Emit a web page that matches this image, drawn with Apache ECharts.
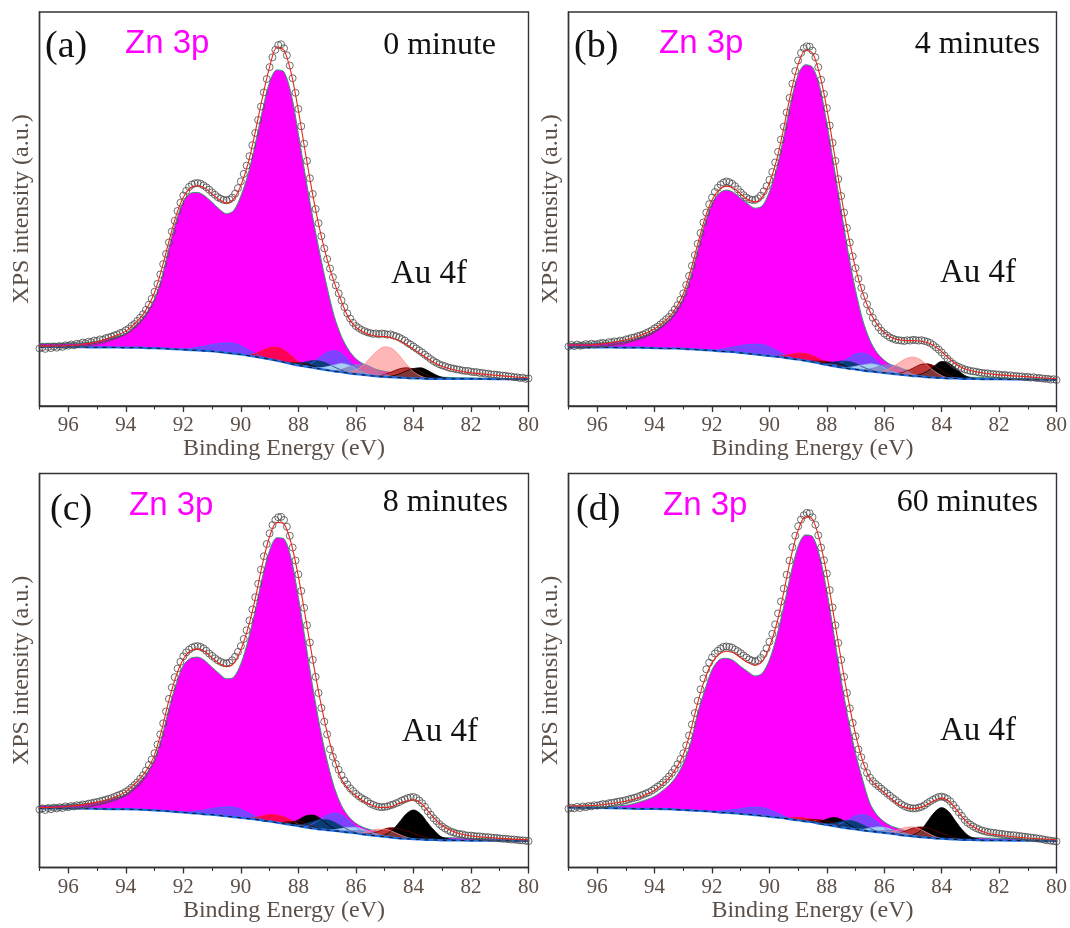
<!DOCTYPE html>
<html><head><meta charset="utf-8">
<script src="https://cdn.jsdelivr.net/npm/echarts@6/dist/echarts.min.js"></script>
<style>html,body{margin:0;padding:0;background:#fff}#c{width:1070px;height:928px}</style>
</head><body><div id="c"></div>
<script>
// ---------- energy grid for fit curves (eV) ----------
const G = [97,96,95,94.5,94,93.5,93.25,93,92.75,92.5,92.25,92,91.75,91.5,91.25,91,90.75,90.5,90.25,90,89.75,89.5,89.25,89,88.75,88.5,88.25,88,87.75,87.5,87.25,87,86.75,86.5,86.25,86,85.75,85.5,85.25,85,84.75,84.5,84.25,84,83.75,83.5,83.25,83,82.5,82,81,80];
const xTicks = [80,82,84,86,88,90,92,94,96];
const panelLabels = ['(a)','(b)','(c)','(d)'];
const timeLabels = ['0 minute','4 minutes','8 minutes','60 minutes'];

// ---------- panel (a) 0 minute ----------
const bgA = [15.0,15.0,14.9,14.9,14.8,14.8,14.7,14.7,14.6,14.5,14.4,14.3,14.2,14.1,14.0,13.9,13.7,13.5,13.3,13.1,12.8,12.5,12.2,11.9,11.5,11.1,10.7,10.3,10.0,9.7,9.4,9.1,8.8,8.6,8.3,8.1,7.9,7.7,7.5,7.4,7.3,7.2,7.1,7.0,7.0,6.9,6.9,6.9,6.9,6.9,6.8,6.8];
const znA = [15.9,15.9,16.4,17.3,18.4,21.6,24.0,27.2,32.6,40.2,46.9,51.9,54.0,54.2,53.3,51.7,50.0,48.8,49.6,53.3,58.8,66.5,75.0,82.2,85.3,84.8,79.2,69.1,58.1,47.9,38.6,30.1,22.7,17.6,14.2,12.0,10.7,9.8,9.2,8.8,8.5,8.2,8.0,7.8,7.6,7.5,7.4,7.3,7.2,7.1,7.0,6.9];
const fitA = [15.2,15.3,16.3,17.5,19.0,22.3,25.0,28.8,34.8,41.8,48.3,53.0,55.4,55.9,55.3,53.8,52.4,51.5,52.5,56.0,61.5,69.5,78.3,86.0,91.0,90.3,84.5,75.0,64.0,53.6,44.6,37.2,31.3,26.5,22.3,20.0,18.8,18.0,17.7,17.6,17.3,16.6,15.6,14.4,13.2,12.0,10.9,10.0,9.0,8.4,7.7,7.1];
const dataA = [14.6,14.9,14.5,15.0,14.7,15.1,14.8,15.2,15.0,15.4,15.3,15.6,15.4,15.8,15.7,16.1,15.9,16.3,16.2,16.6,16.5,
16.9,16.8,17.2,17.4,17.6,17.9,18.1,18.5,18.7,19.2,
19.6,20.3,20.8,21.6,22.4,23.3,24.4,25.7,27.2,29.0,
31.0,33.4,36.0,38.6,41.5,44.3,47.0,49.5,51.6,53.4,
54.6,55.6,56.2,56.5,56.6,56.4,56.0,55.5,54.9,54.2,
53.6,53.0,52.6,52.3,52.2,52.4,52.9,53.9,55.3,57.0,
58.9,61.0,63.4,66.2,69.3,72.6,76.0,79.6,83.0,86.0,
88.5,90.4,91.6,91.8,90.8,89.0,86.4,83.2,79.5,75.4,
71.0,66.6,62.2,57.8,53.8,50.0,46.4,43.1,40.0,37.3,
34.9,32.7,30.6,28.6,26.8,25.1,23.5,22.2,21.1,20.3,
19.8,19.3,19.0,18.7,18.5,18.3,18.4,18.2,18.4,18.3,
18.1,18.2,17.9,17.7,17.4,17.0,16.6,16.0,15.6,15.1,
14.6,14.1,13.6,13.0,12.5,11.9,11.4,11.0,10.6,10.3,
10.1,9.8,9.6,9.5,9.3,9.2,9.0,8.9,8.9,8.7,
8.6,8.6,8.4,8.4,8.2,8.2,8.0,8.0,7.9,7.8,
7.7,7.7,7.5,7.5,7.3,7.3,7.1,7.2,6.9,7.0];
const purpleA = [[92,0],[91.75,0.4],[91.5,0.8],[91.25,1.2],[91,1.7],[90.75,2.2],[90.5,2.5],[90.25,2.6],[90,2.2],[89.75,1.5],[89.5,0.8],[89.25,0.3],[89,0],[88,0],[87.75,0.3],[87.5,1.3],[87.25,3.0],[87,4.5],[86.75,5.2],[86.5,4.7],[86.25,3.3],[86,1.7],[85.75,0.6],[85.5,0]];
const crimsonA = [[89.75,0],[89.5,0.8],[89.25,1.9],[89,2.9],[88.75,3.4],[88.5,3.1],[88.25,2.1],[88,0.9],[87.75,0.2],[87.5,0]];
const maroonA = [[88.5,0],[88.25,0.3],[88,0.7],[87.75,0.8],[87.5,0.5],[87.25,0.1],[87,0],[85.25,0],[85,0.6],[84.75,1.4],[84.5,2.2],[84.25,2.6],[84,2.4],[83.75,1.7],[83.5,0.8],[83.25,0.2],[83,0]];
const blackA = [[88.25,0],[88,0.3],[87.75,0.6],[87.5,0.4],[87.25,0],[85,0],[84.75,0.3],[84.5,0.9],[84.25,1.8],[84,2.5],[83.75,2.7],[83.5,2.1],[83.25,1.1],[83,0.4],[82.5,0]];
const navyA = [[88.25,0],[88,0.5],[87.75,1.2],[87.5,1.8],[87.25,2.0],[87,1.7],[86.75,1.1],[86.5,0.5],[86.25,0.1],[86,0]];
const lightblueA = [[87.5,0],[87.25,0.3],[87,0.9],[86.75,1.6],[86.5,2.2],[86.25,2.1],[86,1.4],[85.75,0.6],[85.5,0.2],[85.25,0]];
const lavenderA = [[87,0],[86.75,0.2],[86.5,0.7],[86.25,1.6],[86,2.4],[85.75,2.7],[85.5,2.3],[85.25,1.5],[85,0.7],[84.75,0.2],[84.5,0]];
const pinkA = [[86.5,0],[86.25,0.3],[86,1.0],[85.75,2.4],[85.5,4.5],[85.25,6.5],[85,7.6],[84.75,7.3],[84.5,5.7],[84.25,3.5],[84,1.7],[83.75,0.6],[83.5,0.1],[83.25,0]];

// ---------- panel (b) 4 minutes ----------
const bgB = [14.9,14.9,14.8,14.8,14.7,14.6,14.6,14.5,14.4,14.3,14.2,14.1,13.9,13.8,13.7,13.5,13.3,13.1,12.9,12.7,12.5,12.3,12.0,11.8,11.5,11.2,10.8,10.4,10.1,9.8,9.5,9.3,9.0,8.8,8.6,8.4,8.2,8.0,7.8,7.6,7.5,7.3,7.2,7.1,7.0,7.0,6.9,6.9,6.8,6.8,6.7,6.6];
const znB = [15.8,16.0,16.5,17.5,19.1,21.9,24.3,27.5,32.8,39.6,46.4,51.4,54.0,54.8,54.2,52.7,51.3,50.2,50.8,54.4,60.3,68.4,77.3,84.1,86.6,86.0,81.1,71.8,60.8,49.7,38.7,29.4,21.8,16.7,13.5,11.6,10.4,9.7,9.2,8.8,8.5,8.2,8.0,7.8,7.6,7.5,7.4,7.3,7.2,7.1,6.9,6.8];
const fitB = [15.4,15.6,16.8,17.9,19.6,22.5,25.0,28.5,34.2,41.0,47.6,52.3,54.9,55.8,55.3,53.8,52.4,51.8,53.0,56.6,62.4,70.6,79.6,86.7,90.3,89.6,84.2,75.5,64.6,53.3,43.3,35.0,28.7,24.0,20.7,18.6,17.4,16.8,16.6,16.6,16.5,16.1,15.2,13.8,12.1,10.6,9.6,9.0,8.3,7.9,7.4,6.9];
const dataB = [15.1,15.5,15.2,15.6,15.3,15.4,15.7,15.5,15.8,15.6,15.7,15.9,16.0,15.8,16.2,16.1,16.4,16.3,16.6,16.5,16.9,
17.0,17.3,17.4,17.7,17.9,18.1,18.5,18.8,19.2,19.7,
20.1,20.7,21.3,22.0,22.6,23.5,24.5,25.6,27.0,28.6,
30.7,33.0,35.6,38.3,41.2,43.9,46.6,49.1,51.2,52.9,
54.3,55.4,56.2,56.7,57.0,56.8,56.4,55.8,55.0,54.2,
53.5,52.9,52.5,52.3,52.3,52.7,53.4,54.5,55.8,57.4,
59.4,61.8,64.5,67.6,70.9,74.5,78.2,81.8,85.0,87.7,
89.6,90.8,91.3,91.2,90.2,88.5,86.0,82.8,79.2,75.6,
71.2,66.8,62.2,57.6,53.3,49.1,45.2,41.5,38.0,35.0,
32.3,30.0,27.9,25.8,24.0,22.4,21.1,20.0,19.1,18.4,
17.9,17.4,17.1,16.8,16.7,16.6,16.5,16.7,16.6,16.8,
16.7,16.6,16.7,16.5,16.3,16.0,15.5,14.9,14.3,13.6,
12.8,12.0,11.3,10.7,10.2,9.9,9.6,9.3,9.1,8.9,
8.8,8.7,8.5,8.4,8.3,8.3,8.1,8.1,8.0,8.0,
7.8,7.9,7.7,7.8,7.6,7.6,7.5,7.5,7.3,7.4,
7.2,7.3,7.1,7.1,7.0,6.9,6.9,6.7,6.8,6.6];
const purpleB = [[92,0],[91.75,0.4],[91.5,0.8],[91.25,1.3],[91,1.8],[90.75,2.3],[90.5,2.6],[90.25,2.7],[90,2.3],[89.75,1.6],[89.5,0.8],[89.25,0.3],[89,0],[88,0],[87.75,0.3],[87.5,1.2],[87.25,2.6],[87,3.9],[86.75,4.4],[86.5,4.0],[86.25,2.8],[86,1.5],[85.75,0.5],[85.5,0]];
const crimsonB = [[89.75,0],[89.5,0.5],[89.25,1.1],[89,1.6],[88.75,1.8],[88.5,1.6],[88.25,1.1],[88,0.5],[87.75,0.1],[87.5,0]];
const maroonB = [[88.75,0],[88.5,0.2],[88.25,0.6],[88,0.9],[87.75,0.8],[87.5,0.4],[87.25,0],[85.75,0],[85.5,0.3],[85.25,1.0],[85,2.0],[84.75,3.0],[84.5,3.4],[84.25,2.9],[84,1.8],[83.75,0.8],[83.5,0.2],[83.25,0]];
const blackB = [[88.25,0],[88,0.6],[87.75,1.0],[87.5,0.8],[87.25,0.3],[87,0],[85,0],[84.75,0.5],[84.5,1.5],[84.25,3.0],[84,4.2],[83.75,3.9],[83.5,2.5],[83.25,1.1],[83,0.3],[82.5,0]];
const navyB = [[88.25,0],[88,0.4],[87.75,1.0],[87.5,1.6],[87.25,1.8],[87,1.5],[86.75,0.9],[86.5,0.4],[86.25,0]];
const lightblueB = [[87.5,0],[87.25,0.3],[87,0.8],[86.75,1.4],[86.5,1.9],[86.25,1.9],[86,1.3],[85.75,0.6],[85.5,0.1],[85.25,0]];
const lavenderB = [[87,0],[86.75,0.2],[86.5,0.6],[86.25,1.3],[86,2.0],[85.75,2.2],[85.5,1.9],[85.25,1.2],[85,0.5],[84.75,0.1],[84.5,0]];
const pinkB = [[86.25,0],[86,0.5],[85.75,1.5],[85.5,2.9],[85.25,4.2],[85,4.8],[84.75,4.3],[84.5,3.0],[84.25,1.6],[84,0.6],[83.75,0.1],[83.5,0]];

// ---------- panel (c) 8 minutes ----------
const bgC = [15.0,15.0,14.9,14.8,14.8,14.7,14.6,14.5,14.4,14.3,14.1,14.0,13.8,13.7,13.5,13.4,13.2,13.0,12.8,12.6,12.4,12.2,11.9,11.7,11.4,11.1,10.8,10.5,10.2,9.9,9.7,9.5,9.3,9.1,8.9,8.7,8.4,8.2,8.0,7.8,7.6,7.4,7.3,7.2,7.1,7.0,7.0,6.9,6.9,6.8,6.8,6.7];
const znC = [15.7,15.9,16.5,17.4,18.6,21.9,24.2,27.5,33.1,40.3,46.6,51.3,53.1,53.4,52.5,50.8,49.2,47.9,48.3,51.7,57.6,65.3,73.7,80.5,83.7,83.4,78.4,68.6,57.2,45.8,35.6,27.1,20.3,15.7,12.9,11.2,10.2,9.6,9.2,8.8,8.5,8.3,8.1,8.0,7.8,7.7,7.6,7.6,7.5,7.4,7.2,7.0];
const fitC = [15.2,15.5,16.6,17.6,19.2,22.6,25.0,28.6,35.0,42.4,48.6,52.9,55.0,55.5,54.8,53.2,51.8,51.0,51.8,55.3,60.8,68.2,77.0,84.0,87.6,87.2,82.3,73.8,63.4,52.7,42.8,34.3,27.6,22.4,19.8,18.2,16.9,16.0,15.3,15.2,15.5,16.3,16.9,17.2,16.4,14.4,12.3,10.6,8.8,8.0,7.4,7.0];
const dataC = [14.7,15.0,14.6,15.1,14.8,15.2,15.0,15.3,15.1,15.5,15.3,15.6,15.5,15.8,15.7,16.0,15.9,16.2,16.3,16.5,16.6,
16.8,17.0,17.2,17.4,17.6,17.9,18.2,18.5,18.8,19.2,
19.7,20.3,20.9,21.6,22.5,23.4,24.6,26.0,27.4,29.0,
31.2,33.8,36.6,39.6,42.8,45.7,48.3,50.5,52.2,53.6,
54.6,55.3,55.8,56.1,56.2,56.0,55.6,55.0,54.3,53.7,
53.1,52.6,52.2,51.9,51.8,52.0,52.6,53.5,54.7,56.2,
58.0,60.2,62.7,65.5,68.6,72.0,75.6,79.0,82.1,84.8,
86.9,88.2,88.9,89.0,88.2,86.5,84.2,81.2,77.9,74.4,
70.2,65.9,61.5,57.1,52.7,48.4,44.3,40.5,37.0,33.8,
30.0,28.1,26.3,24.8,23.4,22.1,21.1,20.1,19.4,18.7,
18.1,17.6,17.2,16.8,16.2,15.9,15.6,15.4,15.3,15.4,
15.5,15.8,16.0,16.3,16.6,17.0,17.3,17.6,17.8,17.9,
17.6,17.0,16.3,15.4,14.3,13.4,12.5,11.8,11.0,10.4,
9.9,9.5,9.1,8.9,8.6,8.5,8.4,8.2,8.1,8.1,
8.0,7.9,7.9,7.8,7.7,7.7,7.6,7.5,7.5,7.4,
7.3,7.3,7.2,7.1,7.1,7.0,6.9,6.9,6.8,6.7];
const purpleC = [[92,0],[91.75,0.3],[91.5,0.7],[91.25,1.1],[91,1.6],[90.75,2.0],[90.5,2.4],[90.25,2.5],[90,2.2],[89.75,1.5],[89.5,0.8],[89.25,0.3],[89,0],[88,0],[87.75,0.3],[87.5,1.2],[87.25,2.5],[87,3.8],[86.75,4.5],[86.5,4.3],[86.25,3.1],[86,1.6],[85.75,0.5],[85.5,0]];
const crimsonC = [[89.75,0],[89.5,0.5],[89.25,1.2],[89,1.7],[88.75,1.9],[88.5,1.7],[88.25,1.2],[88,0.5],[87.75,0.1],[87.5,0]];
const maroonC = [[88.75,0],[88.5,0.4],[88.25,0.9],[88,1.2],[87.75,1.0],[87.5,0.5],[87.25,0.1],[87,0],[85.75,0],[85.5,0.4],[85.25,1.1],[85,2.0],[84.75,2.5],[84.5,2.4],[84.25,2.0],[84,1.5],[83.75,0.9],[83.5,0.4],[83.25,0.1],[83,0]];
const blackC = [[88.5,0],[88.25,0.5],[88,1.6],[87.75,2.9],[87.5,3.4],[87.25,2.8],[87,1.5],[86.75,0.5],[86.5,0],[85.25,0],[85,0.5],[84.75,1.8],[84.5,4.0],[84.25,6.3],[84,7.4],[83.75,6.5],[83.5,4.3],[83.25,2.2],[83,0.8],[82.5,0]];
const navyC = [[88.25,0],[88,0.3],[87.75,0.9],[87.5,1.7],[87.25,2.4],[87,2.6],[86.75,2.2],[86.5,1.4],[86.25,0.6],[86,0.1],[85.75,0]];
const lightblueC = [[87,0],[86.75,0.3],[86.5,0.8],[86.25,1.3],[86,1.5],[85.75,1.3],[85.5,0.8],[85.25,0.3],[85,0]];
const lavenderC = [[86.75,0],[86.5,0.2],[86.25,0.4],[86,0.7],[85.75,0.9],[85.5,0.8],[85.25,0.5],[85,0.2],[84.75,0]];
const pinkC = [[86,0],[85.75,0.4],[85.5,1.1],[85.25,1.7],[85,1.9],[84.75,1.6],[84.5,1.0],[84.25,0.4],[84,0]];

// ---------- panel (d) 60 minutes ----------
const bgD = [15.2,15.1,15.0,14.9,14.9,14.8,14.7,14.6,14.5,14.4,14.3,14.2,14.0,13.9,13.8,13.6,13.5,13.3,13.1,12.9,12.7,12.5,12.2,12.0,11.7,11.5,11.1,10.8,10.5,10.2,9.9,9.7,9.4,9.2,9.0,8.8,8.6,8.3,8.1,7.9,7.7,7.6,7.4,7.3,7.2,7.1,7.0,7.0,6.9,6.9,6.8,6.7];
const znD = [15.4,15.4,15.8,16.7,18.1,20.9,23.1,26.4,31.5,39.2,45.1,50.2,52.7,53.1,52.5,51.0,49.7,48.6,49.3,52.7,58.6,66.3,74.7,81.5,84.4,84.0,79.0,70.1,59.1,47.6,37.5,29.0,22.2,16.3,13.3,11.6,10.5,9.9,9.3,8.9,8.6,8.4,8.2,8.0,7.9,7.8,7.7,7.6,7.5,7.4,7.2,6.9];
const fitD = [15.6,15.8,16.8,17.9,19.6,22.7,25.2,28.6,34.5,41.8,47.8,52.0,54.2,54.9,54.5,53.2,52.0,51.3,52.3,56.0,61.8,69.9,78.8,85.6,89.0,88.4,83.0,74.3,63.5,52.6,42.5,33.8,27.0,22.6,20.6,19.0,17.4,16.0,15.2,14.9,15.2,16.0,17.0,17.6,16.8,14.8,12.5,10.8,8.9,8.2,7.5,7.0];
const dataD = [14.9,15.2,15.0,15.4,15.1,15.5,15.3,15.6,15.5,15.8,15.7,15.9,16.1,16.0,16.3,16.4,16.5,16.7,16.8,16.9,17.1,
17.3,17.5,17.7,17.9,18.2,18.5,18.8,19.1,19.5,20.0,
20.5,21.0,21.6,22.3,23.1,24.0,25.0,26.2,27.5,29.0,
31.0,33.5,36.3,39.2,42.3,45.2,48.0,50.3,52.0,53.3,
54.3,55.0,55.6,56.0,56.1,56.0,55.8,55.3,54.9,54.4,
53.8,53.3,52.8,52.5,52.3,52.6,53.2,54.2,55.6,57.3,
59.3,61.7,64.5,67.5,70.8,74.3,77.9,81.3,84.2,86.6,
88.3,89.4,90.0,89.9,88.9,87.0,84.3,81.2,78.0,74.6,
70.4,66.0,61.5,57.0,52.7,48.4,44.3,40.4,36.7,33.3,
30.0,28.0,25.8,24.0,22.8,21.9,21.2,20.6,20.0,19.4,
18.8,18.2,17.6,17.1,16.5,16.0,15.6,15.3,15.1,15.0,
15.0,15.2,15.4,15.8,16.3,16.8,17.2,17.6,17.9,18.0,
17.8,17.4,16.8,15.9,15.0,14.0,13.1,12.1,11.4,10.9,
10.4,10.0,9.7,9.4,9.2,9.0,8.9,8.8,8.7,8.6,
8.5,8.4,8.3,8.2,8.2,8.1,8.0,7.9,7.8,7.7,
7.6,7.5,7.4,7.3,7.2,7.0,6.9,6.8,6.7,6.6];
const purpleD = [[92,0],[91.75,0.3],[91.5,0.6],[91.25,0.9],[91,1.3],[90.75,1.7],[90.5,2.0],[90.25,2.1],[90,1.8],[89.75,1.2],[89.5,0.6],[89.25,0.2],[89,0],[88,0],[87.75,0.3],[87.5,1.0],[87.25,2.2],[87,3.4],[86.75,4.0],[86.5,3.7],[86.25,2.6],[86,1.3],[85.75,0.4],[85.5,0]];
const crimsonD = [[89.5,0],[89.25,0.4],[89,0.7],[88.75,0.8],[88.5,0.7],[88.25,0.4],[88,0.1],[87.75,0]];
const maroonD = [[89,0],[88.75,0.3],[88.5,0.7],[88.25,1.0],[88,1.0],[87.75,0.7],[87.5,0.3],[87.25,0],[85.75,0],[85.5,0.4],[85.25,1.2],[85,2.1],[84.75,2.6],[84.5,2.5],[84.25,2.0],[84,1.4],[83.75,0.8],[83.5,0.3],[83.25,0]];
const blackD = [[88.5,0],[88.25,0.5],[88,1.5],[87.75,2.2],[87.5,2.0],[87.25,1.1],[87,0.3],[86.75,0],[85.25,0],[85,0.4],[84.75,1.6],[84.5,4.0],[84.25,6.6],[84,7.9],[83.75,6.9],[83.5,4.5],[83.25,2.3],[83,0.8],[82.5,0]];
const navyD = [[88.25,0],[88,0.3],[87.75,0.8],[87.5,1.5],[87.25,2.0],[87,1.9],[86.75,1.4],[86.5,0.7],[86.25,0.2],[86,0]];
const lightblueD = [[87,0],[86.75,0.3],[86.5,0.8],[86.25,1.3],[86,1.4],[85.75,1.1],[85.5,0.6],[85.25,0.2],[85,0]];
const lavenderD = [[86.5,0],[86.25,0.3],[86,0.6],[85.75,0.9],[85.5,0.9],[85.25,0.6],[85,0.3],[84.75,0]];
const pinkD = [[86,0],[85.75,0.5],[85.5,1.3],[85.25,2.1],[85,2.4],[84.75,2.0],[84.5,1.2],[84.25,0.5],[84,0]];

// ---------- styles ----------
const SERIF = "'Times New Roman','Liberation Serif',serif";
const SANS = "Arial,'Liberation Sans',sans-serif";
const AXC = '#333';
const LABC = '#5b5048';
const COMP_STYLE = {
  purple:   {fill:'#8040ff', edge:'#3f6cff'},
  crimson:  {fill:'rgba(255,0,40,0.78)', edge:'#ff1a1a'},
  maroon:   {fill:'#800000', edge:'#6a0000'},
  black:    {fill:'#000000', edge:'#000000'},
  navy:     {fill:'#0b3b78', edge:'#0b3b78'},
  lightblue:{fill:'#a9cdf2', edge:'#8ab6e6'},
  lavender: {fill:'rgba(128,128,196,0.8)', edge:'#8080c0'},
  pink:     {fill:'rgba(255,110,110,0.5)', edge:'#ff8a8a'}
};
const ORDER = ['purple','crimson','maroon','black','navy','lightblue','lavender','pink'];

const panels = [
  {bg:bgA, zn:znA, fit:fitA, data:dataA, comps:{purple:purpleA,crimson:crimsonA,maroon:maroonA,black:blackA,navy:navyA,lightblue:lightblueA,lavender:lavenderA,pink:pinkA}},
  {bg:bgB, zn:znB, fit:fitB, data:dataB, comps:{purple:purpleB,crimson:crimsonB,maroon:maroonB,black:blackB,navy:navyB,lightblue:lightblueB,lavender:lavenderB,pink:pinkB}},
  {bg:bgC, zn:znC, fit:fitC, data:dataC, comps:{purple:purpleC,crimson:crimsonC,maroon:maroonC,black:blackC,navy:navyC,lightblue:lightblueC,lavender:lavenderC,pink:pinkC}},
  {bg:bgD, zn:znD, fit:fitD, data:dataD, comps:{purple:purpleD,crimson:crimsonD,maroon:maroonD,black:blackD,navy:navyD,lightblue:lightblueD,lavender:lavenderD,pink:pinkD}}
];

const gridBoxes = [
  {left:39.5, top:12, width:489, height:394},
  {left:568.5, top:12, width:489.5, height:394},
  {left:39.5, top:473.5, width:489, height:394},
  {left:568.5, top:473.5, width:489.5, height:394}
];

// hidden category axis (0.25 eV slots from 97 down to 80) used only so that stacked fills align by energy
const CAT = [];
for (let k = 0; k <= 68; k++) CAT.push(String(97 - k * 0.25));

function bgAt(bg, x){ return bg[G.indexOf(x)]; }
function splitBumps(arr){
  const out=[]; let cur=[];
  for (const p of arr){
    cur.push(p);
    if (p[1]===0 && cur.length>1){ out.push(cur); cur=[p]; }
  }
  if (cur.length>1) out.push(cur);
  return out.filter(b=>b.some(p=>p[1]>0));
}

const grids=[], xAxes=[], yAxes=[], series=[], graphics=[];
let sid=0;
panels.forEach((P,i)=>{
  grids.push(Object.assign({show:true, borderColor:AXC, borderWidth:1.4, backgroundColor:'#fff'}, gridBoxes[i]));
  xAxes.push({gridIndex:i, type:'value', min:80, max:97, inverse:true, interval:2, position:'bottom', z:10,
    axisLine:{show:true, lineStyle:{color:AXC, width:1.4}},
    axisTick:{show:true, inside:false, length:6, lineStyle:{color:AXC, width:1.3}},
    minorTick:{show:false}, splitLine:{show:false},
    axisLabel:{color:LABC, fontFamily:SERIF, fontSize:21, margin:9, showMaxLabel:false},
    name:'Binding Energy (eV)', nameLocation:'middle', nameGap:29,
    nameTextStyle:{color:LABC, fontFamily:SERIF, fontSize:24}});
  xAxes.push({gridIndex:i, type:'value', min:80, max:97, inverse:true, interval:1, position:'bottom', z:10,
    axisLine:{show:false}, axisLabel:{show:false}, splitLine:{show:false},
    axisTick:{show:true, inside:false, length:3.5, lineStyle:{color:AXC, width:1.1}}});
  xAxes.push({gridIndex:i, type:'category', data:CAT, boundaryGap:false, show:false, position:'bottom'});
  yAxes.push({gridIndex:i, type:'value', min:0, max:100,
    axisLine:{show:true, lineStyle:{color:AXC, width:1.4}}, axisTick:{show:false}, axisLabel:{show:false}, splitLine:{show:false},
    name:'XPS intensity (a.u.)', nameLocation:'middle', nameGap:6,
    nameTextStyle:{color:LABC, fontFamily:SERIF, fontSize:24}});
  const xa=3*i, xc=3*i+2, ya=i;
  // Zn 3p (magenta) filled between background and Zn envelope
  const st='zn'+i;
  series.push({type:'line', xAxisIndex:xc, yAxisIndex:ya, stack:st, symbol:'none', silent:true, smooth:0.3,
    lineStyle:{width:0, opacity:0}, data:G.map((x,k)=>[String(x),P.bg[k]]), z:2});
  series.push({type:'line', xAxisIndex:xc, yAxisIndex:ya, stack:st, symbol:'none', silent:true, smooth:0.3,
    lineStyle:{color:'#2e9e6a', width:1}, areaStyle:{color:'#ff00ff', opacity:1},
    data:G.map((x,k)=>[String(x), Math.max(0, P.zn[k]-P.bg[k])]), z:2});
  // small components sitting on the background
  ORDER.forEach(name=>{
    splitBumps(P.comps[name]).forEach(b=>{
      const s='c'+(sid++);
      series.push({type:'line', xAxisIndex:xc, yAxisIndex:ya, stack:s, symbol:'none', silent:true, smooth:0.35,
        lineStyle:{width:0, opacity:0}, data:b.map(p=>[String(p[0]), bgAt(P.bg,p[0])]), z:3});
      series.push({type:'line', xAxisIndex:xc, yAxisIndex:ya, stack:s, symbol:'none', silent:true, smooth:0.35,
        lineStyle:{color:COMP_STYLE[name].edge, width:0.8}, areaStyle:{color:COMP_STYLE[name].fill, opacity:1},
        data:b.map(p=>[String(p[0]), p[1]]), z:3});
    });
  });
  // background line
  series.push({type:'line', xAxisIndex:xa, yAxisIndex:ya, symbol:'none', silent:true, smooth:0.3,
    lineStyle:{color:'#1f6fe6', width:2.2}, data:G.map((x,k)=>[x,P.bg[k]]), z:4});
  series.push({type:'line', xAxisIndex:xa, yAxisIndex:ya, symbol:'none', silent:true, smooth:0.3,
    lineStyle:{color:'#111', width:1, type:[4,5]}, data:G.map((x,k)=>[x,P.bg[k]]), z:4});
  // experimental points
  series.push({type:'scatter', xAxisIndex:xa, yAxisIndex:ya, symbol:'circle', symbolSize:7, silent:true,
    itemStyle:{color:'rgba(255,255,255,0)', borderColor:'#4a4a4a', borderWidth:1},
    data:P.data.map((v,k)=>[+(97-k*0.1).toFixed(1), v]), z:5});
  // fitted envelope
  series.push({type:'line', xAxisIndex:xa, yAxisIndex:ya, symbol:'none', silent:true, smooth:0.3,
    lineStyle:{color:'#e8261e', width:1.1}, data:G.map((x,k)=>[x,P.fit[k]]), z:6});
});

// annotation texts: [text, x, y, font, colour, align]
const TXT = [
  [panelLabels[0], 45, 47, '38px '+SERIF, '#111', 'left'],
  ['Zn 3p', 125, 44, '33px '+SANS, '#ff00ff', 'left'],
  [timeLabels[0], 496, 46, '32px '+SERIF, '#111', 'right'],
  ['Au 4f', 391, 274, '33px '+SERIF, '#111', 'left'],
  [panelLabels[1], 574, 47, '38px '+SERIF, '#111', 'left'],
  ['Zn 3p', 659, 44, '33px '+SANS, '#ff00ff', 'left'],
  [timeLabels[1], 1040, 45, '32px '+SERIF, '#111', 'right'],
  ['Au 4f', 940, 273, '33px '+SERIF, '#111', 'left'],
  [panelLabels[2], 50, 510, '38px '+SERIF, '#111', 'left'],
  ['Zn 3p', 129, 506, '33px '+SANS, '#ff00ff', 'left'],
  [timeLabels[2], 508, 503, '32px '+SERIF, '#111', 'right'],
  ['Au 4f', 402, 732, '33px '+SERIF, '#111', 'left'],
  [panelLabels[3], 576, 510, '38px '+SERIF, '#111', 'left'],
  ['Zn 3p', 663, 506, '33px '+SANS, '#ff00ff', 'left'],
  [timeLabels[3], 1038, 503, '32px '+SERIF, '#111', 'right'],
  ['Au 4f', 940, 731, '33px '+SERIF, '#111', 'left']
];
TXT.forEach(t=>{
  graphics.push({type:'text', x:t[1], y:t[2], z:100, silent:true,
    style:{text:t[0], font:t[3], fill:t[4], align:t[5], verticalAlign:'middle', textAlign:t[5], textVerticalAlign:'middle'}});
});

const chart = echarts.init(document.getElementById('c'), null, {renderer:'canvas'});
chart.setOption({
  animation:false,
  backgroundColor:'#fff',
  grid:grids, xAxis:xAxes, yAxis:yAxes, series:series, graphic:graphics
});
</script>
</body></html>
